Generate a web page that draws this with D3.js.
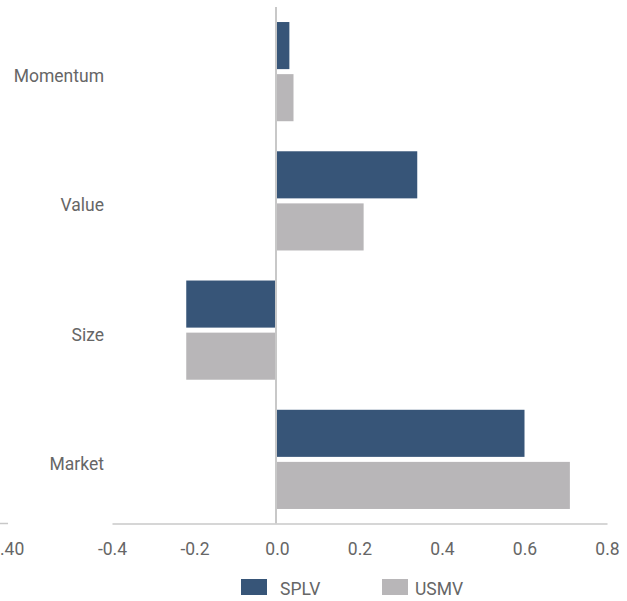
<!DOCTYPE html>
<html>
<head>
<meta charset="utf-8">
<script src="https://cdn.jsdelivr.net/npm/d3@7"></script>
<style>
  html, body { margin: 0; padding: 0; background: #ffffff; }
  svg { display: block; }
  text { font-family: Roboto, "Open Sans", sans-serif; fill: #666666; }
</style>
</head>
<body>
<svg id="chart" width="627" height="601"></svg>
<script>
// ---- data ----
const categories = ["Momentum", "Value", "Size", "Market"];
const seriesNames = ["SPLV", "USMV"];
const splvValues = [0.03, 0.34, -0.22, 0.60];
const usmvValues = [0.04, 0.21, -0.22, 0.71];
const tickValues = [-0.4, -0.2, 0.0, 0.2, 0.4, 0.6, 0.8];
const tickLabels = ["-0.4", "-0.2", "0.0", "0.2", "0.4", "0.6", "0.8"];
// stray, clipped label at the far left edge of the original picture
const strayTickValues = [-0.66];
const strayTickLabels = ["-0.40"];
const seriesColors = ["#375578", "#b8b6b8"];

// ---- layout ----
const svg = d3.select("#chart");
const x = d3.scaleLinear().domain([-0.4, 0.8]).range([112, 607]);
const y = d3.scaleBand().domain(categories).range([7, 524])
  .paddingInner(30 / 129).paddingOuter(15 / 129);
const ySub = d3.scaleBand().domain(seriesNames).range([0, y.bandwidth()])
  .paddingInner(5 / 52).paddingOuter(0);

const rows = categories.map((c, i) => ({
  cat: c,
  vals: [
    { s: seriesNames[0], v: splvValues[i] },
    { s: seriesNames[1], v: usmvValues[i] }
  ]
}));
const color = d3.scaleOrdinal().domain(seriesNames).range(seriesColors);

// bars
const g = svg.append("g");
g.selectAll("g.row").data(rows).join("g")
  .attr("class", "row")
  .attr("transform", d => `translate(0,${y(d.cat)})`)
  .selectAll("rect").data(d => d.vals).join("rect")
  .attr("x", d => x(Math.min(0, d.v)))
  .attr("width", d => Math.abs(x(d.v) - x(0)))
  .attr("y", d => ySub(d.s))
  .attr("height", ySub.bandwidth())
  .attr("fill", d => color(d.s));

// x axis
const axisY = 523.5;
const xAxis = d3.axisBottom(x).tickValues(tickValues)
  .tickFormat((d, i) => tickLabels[i]).tickSize(0).tickPadding(19);
const ax = svg.append("g").attr("transform", `translate(0,${axisY})`).call(xAxis);
ax.select(".domain").attr("stroke", "#c8c8c8").attr("stroke-width", 1.5);
ax.selectAll(".tick text").style("font-size", "17.5px")
  .style("font-family", "Roboto, 'Open Sans', sans-serif").attr("fill", "#666666");

// stray clipped axis piece
svg.append("line").attr("x1", x(-0.68)).attr("x2", x(-0.652))
  .attr("y1", axisY).attr("y2", axisY)
  .attr("stroke", "#c8c8c8").attr("stroke-width", 1.5);
svg.selectAll("text.stray").data(strayTickValues).join("text")
  .attr("class", "stray")
  .attr("x", d => x(d)).attr("y", 554.5)
  .attr("text-anchor", "middle")
  .style("font-size", "17.5px")
  .text((d, i) => strayTickLabels[i]);

// zero line
svg.append("line").attr("x1", x(0) - 1).attr("x2", x(0) - 1)
  .attr("y1", 7).attr("y2", axisY)
  .attr("stroke", "#c8c8c8").attr("stroke-width", 2);

// category labels
svg.selectAll("text.cat").data(categories).join("text")
  .attr("class", "cat")
  .attr("x", 104)
  .attr("y", d => y(d) + y.bandwidth() / 2 + 10.5)
  .attr("text-anchor", "end")
  .style("font-size", "17.5px")
  .text(d => d);

// legend
const legendX = [241, 382];
const lg = svg.selectAll("g.legend").data(seriesNames).join("g")
  .attr("class", "legend")
  .attr("transform", (d, i) => `translate(${legendX[i]},579)`);
lg.append("rect").attr("width", 26).attr("height", 16).attr("fill", d => color(d));
lg.append("text").attr("x", (d, i) => i === 0 ? 39 : 33).attr("y", 16)
  .style("font-size", "17.5px").text(d => d);
</script>
</body>
</html>
